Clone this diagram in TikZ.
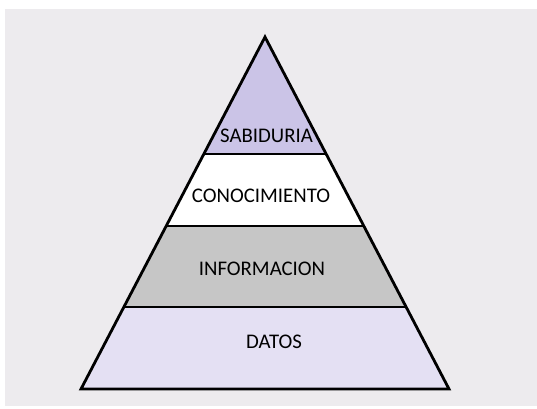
\documentclass[tikz,border=0pt]{standalone}
\usepackage{fontspec}
\setmainfont{Carlito}
\usetikzlibrary{calc}
\definecolor{fondo}{HTML}{EDEBEE}
\definecolor{lila}{HTML}{CBC4E7}
\definecolor{gris}{HTML}{C6C6C6}
\definecolor{lilaclaro}{HTML}{E4E0F3}
\begin{document}
\begin{tikzpicture}[x=1pt,y=-1pt,
    capa/.style={font=\fontsize{20.8}{25}\selectfont, text=black, inner sep=0pt},
    borde/.style={line width=2.8pt, line join=miter}]
  \fill[white] (0,0) rectangle (537,408);
  \fill[fondo] (5,9) rectangle (537,406);
  \coordinate (apex) at (265,37);
  \coordinate (bl) at (81,389);
  \coordinate (br) at (449,389);
  \foreach \t [count=\i] in {0.3324,0.5369,0.7670} {
    \coordinate (l\i) at ($(apex)!\t!(bl)$);
    \coordinate (r\i) at ($(apex)!\t!(br)$);
  }
  \fill[lila] (apex) -- (l1) -- (r1) -- cycle;
  \fill[white] (l1) -- (l2) -- (r2) -- (r1) -- cycle;
  \fill[gris] (l2) -- (l3) -- (r3) -- (r2) -- cycle;
  \fill[lilaclaro] (l3) -- (bl) -- (br) -- (r3) -- cycle;
  \draw[borde] (l1) -- (r1);
  \draw[borde] (l2) -- (r2);
  \draw[borde] (l3) -- (r3);
  \draw[borde] (apex) -- (bl) -- (br) -- cycle;
  \node[capa] (sabiduria) at (266.5,136.3) {SABIDURIA};
  \node[capa] (conocimiento) at (261,195.7) {CONOCIMIENTO};
  \node[capa] (informacion) at (262,268.7) {INFORMACION};
  \node[capa] (datos) at (274,341.7) {DATOS};
\end{tikzpicture}
\end{document}
